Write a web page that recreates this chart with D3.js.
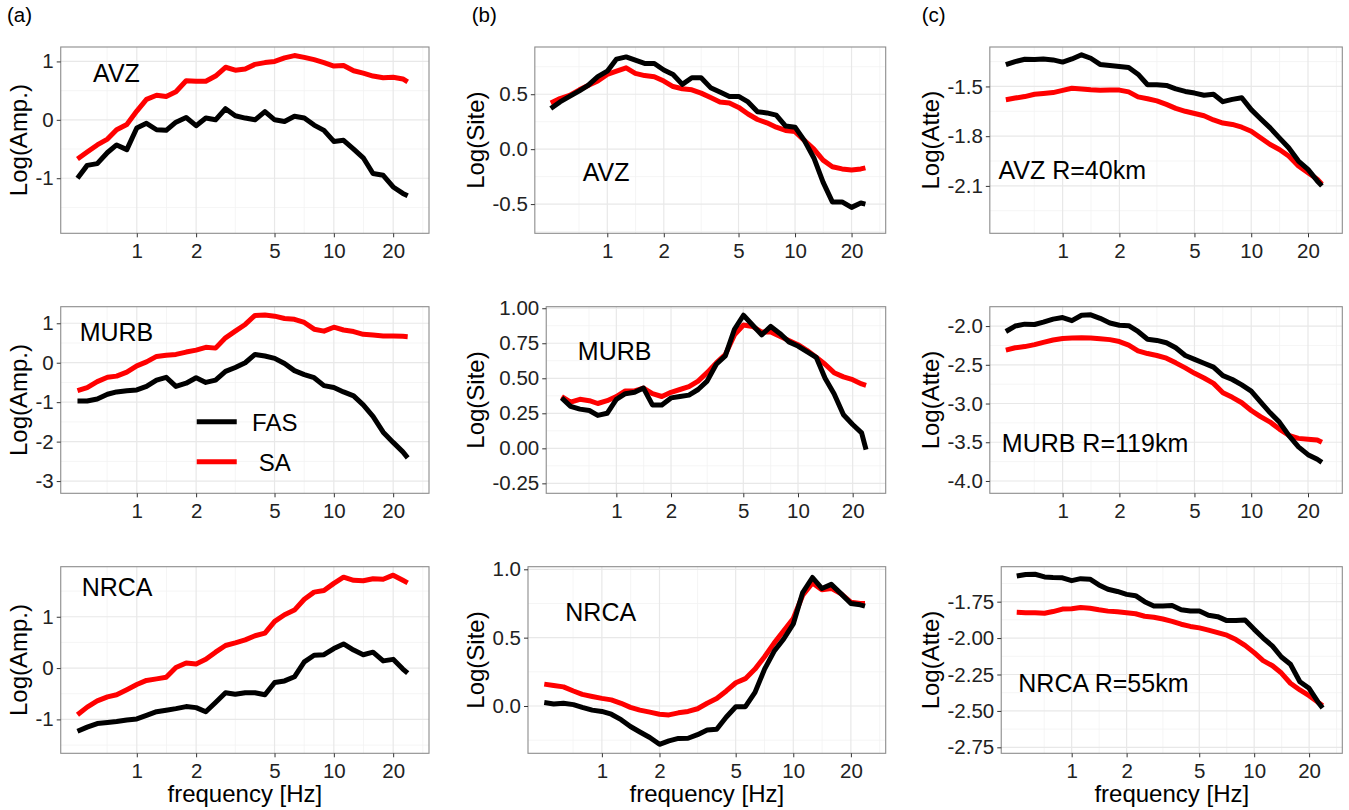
<!DOCTYPE html>
<html>
<head>
<meta charset="utf-8">
<script src="https://cdn.jsdelivr.net/npm/d3@7"></script>
<style>
  body { margin: 0; background: #fff; }
  svg text { font-family: "Liberation Sans", Arial, Helvetica, sans-serif; }
</style>
</head>
<body>
<svg id="chart" width="1349" height="810"></svg>
<script>
// frequencies [Hz] shared by every curve
const freq = [0.5, 0.56, 0.63, 0.71, 0.79, 0.89, 1, 1.12, 1.26, 1.41, 1.58, 1.78, 2, 2.24, 2.51, 2.82,
  3.16, 3.55, 3.98, 4.47, 5.01, 5.62, 6.31, 7.08, 7.94, 8.91, 10, 11.2, 12.6, 14.1, 15.8, 17.8, 20, 22.4, 23.7];

const stations = ["AVZ", "MURB", "NRCA"];
const distances = [40, 119, 55];
const columnTitles = ["Log(Amp.)", "Log(Site)", "Log(Atte)"];
const columnTags = ["(a)", "(b)", "(c)"];
const seriesNames = ["FAS", "SA"];
const xTicks = [1, 2, 5, 10, 20];

// (a) amplitude
const ampFasAVZ = [-1.0, -0.78, -0.75, -0.56, -0.43, -0.51, -0.14, -0.06, -0.17, -0.18, -0.04, 0.04, -0.1, 0.03, 0.0, 0.19,
  0.07, 0.03, 0.0, 0.14, 0.0, -0.03, 0.06, 0.03, -0.09, -0.18, -0.37, -0.35, -0.5, -0.65, -0.92, -0.95, -1.15, -1.26, -1.3];
const ampSaAVZ = [-0.67, -0.55, -0.43, -0.33, -0.17, -0.08, 0.15, 0.35, 0.42, 0.40, 0.48, 0.67, 0.66, 0.66, 0.75, 0.90,
  0.85, 0.87, 0.95, 0.98, 1.0, 1.06, 1.1, 1.07, 1.03, 0.98, 0.92, 0.93, 0.84, 0.80, 0.75, 0.72, 0.73, 0.70, 0.65];
const ampFasMURB = [-0.97, -0.97, -0.92, -0.8, -0.74, -0.71, -0.69, -0.6, -0.44, -0.37, -0.6, -0.52, -0.38, -0.5, -0.44, -0.22,
  -0.12, 0.0, 0.21, 0.17, 0.11, -0.02, -0.2, -0.3, -0.38, -0.58, -0.63, -0.74, -0.84, -1.07, -1.36, -1.76, -2.02, -2.26, -2.41];
const ampSaMURB = [-0.71, -0.63, -0.48, -0.37, -0.34, -0.24, -0.08, 0.02, 0.16, 0.19, 0.21, 0.27, 0.32, 0.39, 0.37, 0.63,
  0.8, 0.97, 1.2, 1.21, 1.18, 1.12, 1.1, 1.02, 0.85, 0.8, 0.9, 0.83, 0.79, 0.72, 0.7, 0.68, 0.68, 0.67, 0.66];
const ampFasNRCA = [-1.23, -1.15, -1.08, -1.06, -1.04, -1.01, -0.99, -0.92, -0.85, -0.82, -0.79, -0.75, -0.77, -0.85, -0.67, -0.48,
  -0.51, -0.48, -0.48, -0.52, -0.28, -0.25, -0.17, 0.12, 0.25, 0.26, 0.38, 0.47, 0.35, 0.26, 0.31, 0.14, 0.17, -0.02, -0.1];
const ampSaNRCA = [-0.91, -0.76, -0.64, -0.56, -0.52, -0.42, -0.32, -0.24, -0.21, -0.18, 0.01, 0.1, 0.08, 0.17, 0.31, 0.44,
  0.49, 0.55, 0.63, 0.68, 0.91, 1.04, 1.13, 1.34, 1.48, 1.51, 1.65, 1.77, 1.71, 1.7, 1.74, 1.73, 1.81, 1.71, 1.66];

// (b) site
const siteFasAVZ = [0.37, 0.43, 0.48, 0.53, 0.58, 0.66, 0.71, 0.82, 0.84, 0.81, 0.78, 0.78, 0.72, 0.68, 0.59, 0.65,
  0.65, 0.56, 0.52, 0.48, 0.48, 0.43, 0.34, 0.33, 0.31, 0.21, 0.2, 0.08, -0.08, -0.3, -0.48, -0.48, -0.53, -0.49, -0.5];
const siteSaAVZ = [0.42, 0.46, 0.49, 0.54, 0.58, 0.62, 0.68, 0.71, 0.74, 0.69, 0.67, 0.66, 0.62, 0.57, 0.55, 0.54,
  0.51, 0.47, 0.43, 0.42, 0.38, 0.32, 0.27, 0.24, 0.2, 0.17, 0.16, 0.08, 0.0, -0.1, -0.16, -0.18, -0.19, -0.18, -0.17];
const siteFasMURB = [0.36, 0.3, 0.28, 0.27, 0.235, 0.25, 0.35, 0.39, 0.4, 0.43, 0.31, 0.31, 0.36, 0.37, 0.38, 0.42,
  0.48, 0.6, 0.66, 0.85, 0.95, 0.88, 0.81, 0.87, 0.82, 0.76, 0.73, 0.69, 0.65, 0.5, 0.39, 0.24, 0.17, 0.11, -0.01];
const siteSaMURB = [0.37, 0.33, 0.35, 0.34, 0.32, 0.34, 0.37, 0.41, 0.41, 0.43, 0.39, 0.37, 0.4, 0.42, 0.44, 0.48,
  0.54, 0.61, 0.67, 0.81, 0.88, 0.87, 0.83, 0.83, 0.8, 0.77, 0.74, 0.7, 0.65, 0.6, 0.54, 0.51, 0.49, 0.46, 0.45];
const siteFasNRCA = [0.025, 0.015, 0.02, 0.01, -0.01, -0.03, -0.04, -0.06, -0.1, -0.15, -0.19, -0.23, -0.28, -0.255, -0.237, -0.236,
  -0.21, -0.175, -0.17, -0.08, -0.005, -0.005, 0.1, 0.27, 0.4, 0.49, 0.6, 0.83, 0.94, 0.86, 0.89, 0.82, 0.75, 0.74, 0.73];
const siteSaNRCA = [0.16, 0.15, 0.14, 0.11, 0.085, 0.07, 0.056, 0.045, 0.02, -0.01, -0.03, -0.045, -0.06, -0.065, -0.05, -0.04,
  -0.02, 0.02, 0.055, 0.11, 0.17, 0.2, 0.27, 0.36, 0.46, 0.55, 0.64, 0.81, 0.9, 0.85, 0.86, 0.82, 0.76, 0.75, 0.75];

// (c) attenuation
const atteFasAVZ = [-1.369, -1.35, -1.336, -1.338, -1.334, -1.34, -1.353, -1.334, -1.309, -1.33, -1.367, -1.373, -1.379, -1.386, -1.426, -1.49,
  -1.49, -1.494, -1.515, -1.53, -1.54, -1.553, -1.547, -1.592, -1.578, -1.568, -1.64, -1.695, -1.75, -1.81, -1.87, -1.95, -2.0, -2.07, -2.1];
const atteSaAVZ = [-1.58, -1.57, -1.561, -1.547, -1.542, -1.537, -1.524, -1.511, -1.515, -1.52, -1.523, -1.521, -1.522, -1.533, -1.563, -1.574,
  -1.587, -1.608, -1.632, -1.65, -1.663, -1.677, -1.702, -1.721, -1.729, -1.746, -1.77, -1.81, -1.85, -1.88, -1.92, -1.98, -2.02, -2.06, -2.09];
const atteFasMURB = [-2.07, -2.0, -1.975, -1.98, -1.95, -1.91, -1.89, -1.93, -1.86, -1.855, -1.9, -1.96, -1.99, -1.995, -2.07, -2.17,
  -2.185, -2.215, -2.28, -2.38, -2.43, -2.48, -2.53, -2.64, -2.69, -2.76, -2.84, -2.98, -3.12, -3.24, -3.41, -3.56, -3.66, -3.72, -3.76];
const atteSaMURB = [-2.31, -2.28, -2.265, -2.24, -2.21, -2.18, -2.16, -2.155, -2.15, -2.155, -2.165, -2.175, -2.2, -2.245, -2.32, -2.355,
  -2.38, -2.415, -2.475, -2.54, -2.61, -2.67, -2.74, -2.86, -2.92, -2.99, -3.09, -3.17, -3.24, -3.33, -3.41, -3.45, -3.46, -3.47, -3.5];
const atteFasNRCA = [-1.574, -1.563, -1.562, -1.58, -1.584, -1.586, -1.606, -1.592, -1.596, -1.635, -1.665, -1.68, -1.7, -1.709, -1.75, -1.78,
  -1.78, -1.777, -1.805, -1.814, -1.814, -1.843, -1.853, -1.88, -1.879, -1.876, -1.94, -2.0, -2.055, -2.13, -2.18, -2.3, -2.345, -2.44, -2.48];
const atteSaNRCA = [-1.823, -1.826, -1.826, -1.83, -1.818, -1.801, -1.798, -1.79, -1.795, -1.806, -1.815, -1.82, -1.826, -1.833, -1.85, -1.857,
  -1.869, -1.885, -1.905, -1.92, -1.93, -1.945, -1.962, -1.98, -2.01, -2.05, -2.1, -2.155, -2.19, -2.24, -2.31, -2.356, -2.395, -2.44, -2.464];

// panel setup: y limits, y breaks, decimals, annotation anchor (freq, value)
const panels = [
  { row: 0, col: 0, fas: ampFasAVZ, sa: ampSaAVZ, yLim: [-1.943, 1.247], yBreaks: [-1, 0, 1], dec: 0, note: [0.6, 0.65] },
  { row: 1, col: 0, fas: ampFasMURB, sa: ampSaMURB, yLim: [-3.31, 1.42], yBreaks: [-3, -2, -1, 0, 1], dec: 0, note: [0.513, 0.56], legend: true },
  { row: 2, col: 0, fas: ampFasNRCA, sa: ampSaNRCA, yLim: [-1.66, 1.975], yBreaks: [-1, 0, 1], dec: 0, note: [0.525, 1.41] },
  { row: 0, col: 1, fas: siteFasAVZ, sa: siteSaAVZ, yLim: [-0.766, 0.93], yBreaks: [-0.5, 0, 0.5], dec: 1, note: [0.74, -0.291] },
  { row: 1, col: 1, fas: siteFasMURB, sa: siteSaMURB, yLim: [-0.321, 1.011], yBreaks: [-0.25, 0, 0.25, 0.5, 0.75, 1], dec: 2, note: [0.614, 0.631] },
  { row: 2, col: 1, fas: siteFasNRCA, sa: siteSaNRCA, yLim: [-0.346, 1.019], yBreaks: [0, 0.5, 1], dec: 1, note: [0.644, 0.622] },
  { row: 0, col: 2, fas: atteFasAVZ, sa: atteSaAVZ, yLim: [-2.386, -1.262], yBreaks: [-2.1, -1.8, -1.5], dec: 1, note: [0.457, -2.057] },
  { row: 1, col: 2, fas: atteFasMURB, sa: atteSaMURB, yLim: [-4.159, -1.75], yBreaks: [-4, -3.5, -3, -2.5, -2], dec: 1, note: [0.476, -3.62] },
  { row: 2, col: 2, fas: atteFasNRCA, sa: atteSaNRCA, yLim: [-2.791, -1.51], yBreaks: [-2.75, -2.5, -2.25, -2, -1.75], dec: 2, note: [0.51, -2.369] }
];

// layout
const rowTop = [47, 306.7, 566.7];
const rowBottom = [233.3, 493.3, 753.3];
const colRight = [429, 885.7, 1342.3];
const titleRight = [32, 489, 944];
const colours = { FAS: "#000000", SA: "#FF0000" };
const tickFont = 20.5;

const svg = d3.select("#chart");

// x limits: 0.5-25 Hz with ggplot's 5% expansion in log space
const lo = Math.log10(0.5), hi = Math.log10(25), pad = 0.05 * (hi - lo);
const xLim = [Math.pow(10, lo - pad), Math.pow(10, hi + pad)];

function measure(str, size) {
  const t = svg.append("text").attr("font-size", size).text(str);
  const w = t.node().getComputedTextLength();
  t.remove();
  return w;
}

// ggplot style minor breaks: midpoints of the (extended) majors
function minorBreaks(majors, fwd, inv, lim) {
  const b = majors.map(fwd);
  const n = b.length;
  const ext = [b[0] - (b[1] - b[0])].concat(b, [b[n - 1] + (b[n - 1] - b[n - 2])]);
  const lo = fwd(lim[0]), hi = fwd(lim[1]);
  const out = [];
  for (let i = 0; i < ext.length - 1; i++) {
    const m = (ext[i] + ext[i + 1]) / 2;
    if (m > Math.min(lo, hi) && m < Math.max(lo, hi)) out.push(inv(m));
  }
  return out;
}

const fmtNum = dec => v => v.toFixed(dec);

panels.forEach(p => {
  const top = rowTop[p.row], bottom = rowBottom[p.row], right = colRight[p.col];
  const fmt = fmtNum(p.dec);
  const maxW = d3.max(p.yBreaks, v => measure(fmt(v), tickFont));
  const left = titleRight[p.col] + maxW + 10.5;

  const x = d3.scaleLog().domain(xLim).range([left, right]);
  const y = d3.scaleLinear().domain(p.yLim).range([bottom, top]);
  const g = svg.append("g");

  g.append("rect")
    .attr("x", left).attr("y", top)
    .attr("width", right - left).attr("height", bottom - top)
    .attr("fill", "#fff");

  // grid
  const xMinor = minorBreaks(xTicks, Math.log10, v => Math.pow(10, v), xLim);
  const yMinor = minorBreaks(p.yBreaks, v => v, v => v, p.yLim);

  g.append("g").selectAll("line.xminor")
    .data(xMinor).enter().append("line")
    .attr("x1", d => x(d)).attr("x2", d => x(d))
    .attr("y1", top).attr("y2", bottom)
    .attr("stroke", "#F2F2F2").attr("stroke-width", 0.8);
  g.append("g").selectAll("line.yminor")
    .data(yMinor).enter().append("line")
    .attr("x1", left).attr("x2", right)
    .attr("y1", d => y(d)).attr("y2", d => y(d))
    .attr("stroke", "#F2F2F2").attr("stroke-width", 0.8);
  g.append("g").selectAll("line.xmajor")
    .data(xTicks).enter().append("line")
    .attr("x1", d => x(d)).attr("x2", d => x(d))
    .attr("y1", top).attr("y2", bottom)
    .attr("stroke", "#E8E8E8").attr("stroke-width", 1.2);
  g.append("g").selectAll("line.ymajor")
    .data(p.yBreaks).enter().append("line")
    .attr("x1", left).attr("x2", right)
    .attr("y1", d => y(d)).attr("y2", d => y(d))
    .attr("stroke", "#E8E8E8").attr("stroke-width", 1.2);

  // curves: SA first, FAS on top
  const line = d3.line().x(d => x(d[0])).y(d => y(d[1]));
  [["SA", p.sa], ["FAS", p.fas]].forEach(([name, vals]) => {
    g.append("path")
      .datum(freq.map((f, i) => [f, vals[i]]))
      .attr("d", line)
      .attr("fill", "none")
      .attr("stroke", colours[name])
      .attr("stroke-width", 5)
      .attr("stroke-linejoin", "round");
  });

  // border
  g.append("rect")
    .attr("x", left).attr("y", top)
    .attr("width", right - left).attr("height", bottom - top)
    .attr("fill", "none").attr("stroke", "#8C8C8C").attr("stroke-width", 1.1);

  // axes
  const ax = g.append("g")
    .attr("transform", `translate(0,${bottom})`)
    .call(d3.axisBottom(x).tickValues(xTicks).tickFormat(d3.format("d")).tickSize(4).tickPadding(6.3).tickSizeOuter(0));
  const ay = g.append("g")
    .attr("transform", `translate(${left},0)`)
    .call(d3.axisLeft(y).tickValues(p.yBreaks).tickFormat(fmt).tickSize(4).tickPadding(3).tickSizeOuter(0));
  [ax, ay].forEach(a => {
    a.select(".domain").remove();
    a.attr("font-size", tickFont).attr("color", "#333");
    a.selectAll("text").attr("fill", "#222");
  });

  // station label
  const label = p.col === 2 ? `${stations[p.row]} R=${distances[p.row]}km` : stations[p.row];
  g.append("text")
    .attr("x", x(p.note[0])).attr("y", y(p.note[1]))
    .attr("font-size", 25).attr("fill", "#000")
    .text(label);

  // y title
  g.append("text")
    .attr("transform", `translate(${titleRight[p.col] - 5},${(top + bottom) / 2}) rotate(-90)`)
    .attr("text-anchor", "middle")
    .attr("font-size", 24).attr("fill", "#000")
    .text(columnTitles[p.col]);

  // x title on bottom row
  if (p.row === 2) {
    g.append("text")
      .attr("x", (left + right) / 2).attr("y", 802)
      .attr("text-anchor", "middle")
      .attr("font-size", 24).attr("fill", "#000")
      .text("frequency [Hz]");
  }

  // legend inside the MURB amplitude panel
  if (p.legend) {
    const lg = g.append("g").attr("transform", `translate(${left},${top})`);
    seriesNames.forEach((name, i) => {
      lg.append("line")
        .attr("x1", 136).attr("x2", 176)
        .attr("y1", 115 + 40 * i).attr("y2", 115 + 40 * i)
        .attr("stroke", colours[name]).attr("stroke-width", 5);
      lg.append("text")
        .attr("x", 214).attr("y", 124 + 40 * i)
        .attr("text-anchor", "middle")
        .attr("font-size", 24).attr("fill", "#000")
        .text(name);
    });
  }
});

// column tags
svg.selectAll("text.tag")
  .data(columnTags).enter().append("text")
  .attr("class", "tag")
  .attr("x", (d, i) => [7, 471.7, 921.7][i])
  .attr("y", 22)
  .attr("font-size", 20.5).attr("fill", "#000")
  .text(d => d);
</script>
</body>
</html>
